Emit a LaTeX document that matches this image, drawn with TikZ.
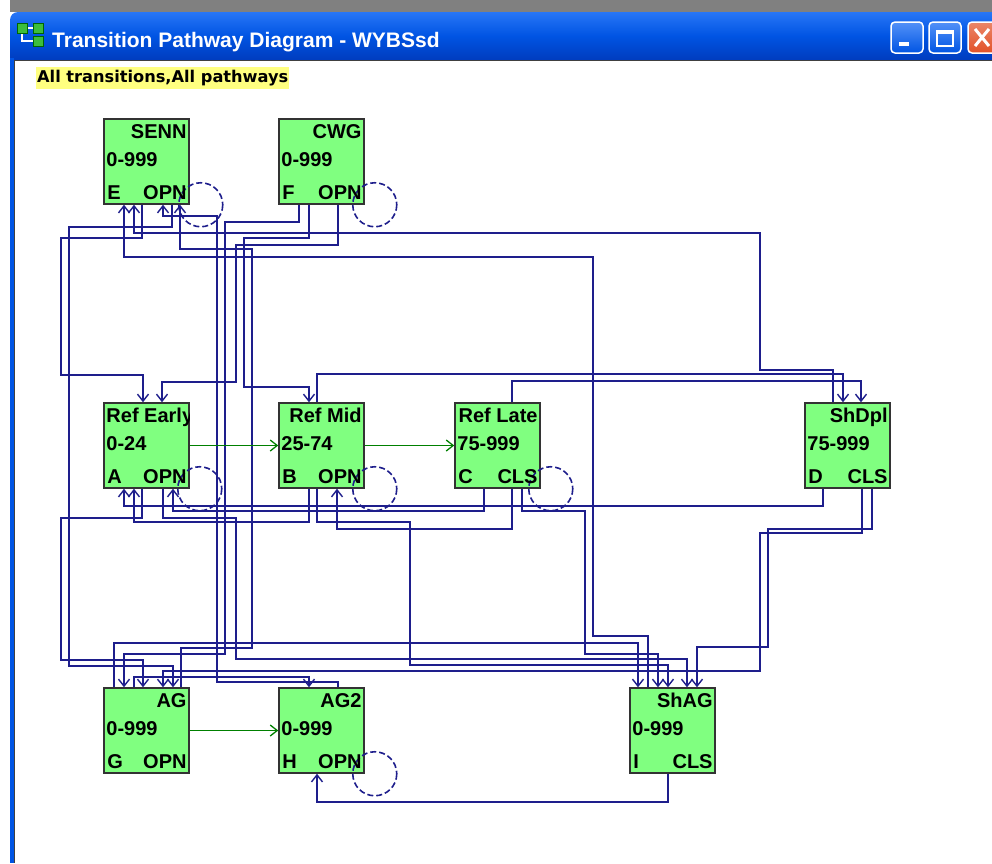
\documentclass[tikz,border=0pt]{standalone}
\usepackage{fontspec}
\setmainfont{Liberation Sans}
\newfontfamily\dejavu{DejaVu Sans}
\usepackage{xcolor}
\usetikzlibrary{arrows.meta, calc, positioning}

\definecolor{linkblue}{RGB}{30,30,140}
\definecolor{statefill}{RGB}{128,255,128}
\definecolor{ageflow}{RGB}{0,128,0}
\definecolor{hilite}{RGB}{255,255,128}
\definecolor{xpblue}{RGB}{0,84,227}
\definecolor{xplight}{RGB}{40,118,246}
\definecolor{xpdark}{RGB}{0,60,190}
\definecolor{xpred}{RGB}{226,82,40}
\definecolor{icongreen}{RGB}{60,190,60}

\begin{document}
\begin{tikzpicture}[x=1pt, y=-1pt,
		state/.style={draw=black!80, line width=1.5pt, fill=statefill, minimum width=85pt, minimum height=85pt, inner sep=0pt}, % state boxes
		boxtext/.style={font=\fontsize{20}{24}\selectfont\bfseries, inner sep=0pt},
		link/.style={draw=linkblue, line width=1.8pt, -{Straight Barb[length=7pt,width=11pt,line width=1.4pt]}}, % transitions
		agelink/.style={draw=ageflow, line width=1.5pt, -{Straight Barb[length=7pt,width=11pt,line width=1.3pt]}}, % age steps
		selfloop/.style={draw=linkblue, line width=1.6pt, dash pattern=on 6pt off 3pt},
		winbutton/.style={draw=white, line width=1.5pt, rounded corners=4pt}
		]
		\useasboundingbox (0,0) rectangle (992,863);
		\fill[white] (0,0) rectangle (992,863);
		% Window frame and title bar
		\fill[black!50] (10,0) rectangle (992,12);
		\shade[top color=xplight, bottom color=xpdark, middle color=xpblue] (10,60) [rounded corners=8pt] -- (10,12) -- (1000,12) [sharp corners] -- (1000,60) -- cycle;
		\fill[xpblue] (10,58) rectangle (14,863);
		\draw[black!75, line width=1.5pt] (14.5,60.5) -- (14.5,863) (14,60.5) -- (992,60.5);
		% Title icon
		\draw[white, line width=1.2pt] (27,28) -- (33,28) (22,33) |- (33,41);
		\draw[green!40!black, fill=icongreen, line width=1pt] (17,23) rectangle (27,33);
		\draw[green!40!black, fill=icongreen, line width=1pt] (33,23) rectangle (43,33);
		\draw[green!40!black, fill=icongreen, line width=1pt] (33,36) rectangle (43,46);
		\node[font=\fontsize{21}{25}\selectfont\bfseries, text=white, inner sep=0pt, anchor=base west] (title) at (52,47) {Transition Pathway Diagram - WYBSsd};
		% Window buttons
		\shade[winbutton, top color=xplight!80!white, bottom color=xpblue] (891,22) rectangle (923,53);
		\fill[white] (899,42) rectangle (909,46);
		\shade[winbutton, top color=xplight!80!white, bottom color=xpblue] (929,22) rectangle (961,53);
		\draw[white, line width=1.5pt] (937,31) rectangle (953,46);
		\fill[white] (937,30) rectangle (953,34);
		\shade[winbutton, top color=xpred!70!white, bottom color=xpred] (968,22) rectangle (1000,53);
		\draw[white, line width=3pt] (975,29) -- (989,46) (989,29) -- (975,46);
		% Caption
		\node[fill=hilite, font=\dejavu\fontsize{16.2}{19}\selectfont\bfseries, inner xsep=1pt, minimum height=22pt, anchor=west] (caption) at (36,78) {All transitions,All pathways};

		% States
		\node[state] (E) at (146.5,161.5) {};
		\node[state] (F) at (321.5,161.5) {};
		\node[state] (A) at (146.5,445.5) {};
		\node[state] (B) at (321.5,445.5) {};
		\node[state] (C) at (497.5,445.5) {};
		\node[state] (D) at (847.5,445.5) {};
		\node[state] (G) at (146.5,730.5) {};
		\node[state] (H) at (321.5,730.5) {};
		\node[state] (I) at (672.5,730.5) {};

		% Self transitions
		\draw[selfloop] ($(E.south east)+(11,0)$) circle[radius=22];
		\draw[selfloop] ($(F.south east)+(10,0)$) circle[radius=22];
		\draw[selfloop] ($(A.south east)+(10,0)$) circle[radius=22];
		\draw[selfloop] ($(B.south east)+(10,0)$) circle[radius=22];
		\draw[selfloop] ($(C.south east)+(10,0)$) circle[radius=22];
		\draw[selfloop] ($(H.south east)+(10,0)$) circle[radius=22];

		% Transitions (orthogonal routes)
		\draw[link] (E.south -| 142,0) |- (61,238) |- (143,375) -- (A.north -| 143,0);
		\draw[link] (E.south -| 172,0) |- (69,227) |- (173,666) -- (G.north -| 173,0);
		\draw[link] (F.south -| 299,0) |- (225,222) |- (124,654) -- (G.north -| 124,0);
		\draw[link] (F.south -| 309,0) |- (244,238) |- (309,387) -- (B.north -| 309,0);
		\draw[link] (F.south -| 338,0) |- (236,245) |- (162,382) -- (A.north -| 162,0);
		\draw[link] (D.north -| 833,0) |- (760,370) |- (134,233) -- (E.south -| 134,0);
		\draw[link] (I.north -| 648,0) |- (593,636) |- (124,257) -- (E.south -| 124,0);
		\draw[link] (G.north -| 181,0) |- (252,648) |- (180,249) -- (E.south -| 180,0);
		\draw[link] (H.north -| 338,0) |- (217,682) |- (163,216) -- (E.south -| 163,0);
		\draw[link] (G.north -| 134,0) |- (309,677) -- (H.north -| 309,0);
		\draw[link] (B.north -| 317,0) |- (843,374) -- (D.north -| 843,0);
		\draw[link] (C.north -| 512,0) |- (861,381) -- (D.north -| 861,0);
		\draw[link] (D.south -| 823,0) |- (124,506) -- (A.south -| 124,0);
		\draw[link] (C.south -| 484,0) |- (173,511) -- (A.south -| 173,0);
		\draw[link] (C.south -| 512,0) |- (337,529) -- (B.south -| 337,0);
		\draw[link] (B.south -| 309,0) |- (134,522) -- (A.south -| 134,0);
		\draw[link] (A.south -| 142,0) |- (61,518) |- (143,660) -- (G.north -| 143,0);
		\draw[link] (A.south -| 163,0) |- (236,518) |- (687,659) -- (I.north -| 687,0);
		\draw[link] (G.north -| 114,0) |- (638,643) -- (I.north -| 638,0);
		\draw[link] (C.south -| 522,0) |- (585,511) |- (658,654) -- (I.north -| 658,0);
		\draw[link] (B.south -| 317,0) |- (410,522) |- (668,665) -- (I.north -| 668,0);
		\draw[link] (D.south -| 872,0) |- (768,529) |- (697,647) -- (I.north -| 697,0);
		\draw[link] (D.south -| 862,0) |- (760,533) |- (163,671) -- (G.north -| 163,0);
		\draw[link] (I.south -| 668,0) |- (317,802) -- (H.south -| 317,0);

		% Age progression
		\draw[agelink] (A.east) -- (B.west);
		\draw[agelink] (B.east) -- (C.west);
		\draw[agelink] (G.east) -- (H.west);

		% State labels
		\node[boxtext, anchor=base east] (E-name) at ($(E.north east)+(-3,20)$) {SENN};
		\node[boxtext, anchor=base west] (E-range) at ($(E.north west)+(3,48)$) {0-999};
		\node[boxtext, anchor=base west] (E-id) at ($(E.south west)+(4,-5)$) {E};
		\node[boxtext, anchor=base east] (E-status) at ($(E.south east)+(-3,-5)$) {OPN};

		\node[boxtext, anchor=base east] (F-name) at ($(F.north east)+(-3,20)$) {CWG};
		\node[boxtext, anchor=base west] (F-range) at ($(F.north west)+(3,48)$) {0-999};
		\node[boxtext, anchor=base west] (F-id) at ($(F.south west)+(4,-5)$) {F};
		\node[boxtext, anchor=base east] (F-status) at ($(F.south east)+(-3,-5)$) {OPN};

		\begin{scope}
			\clip (A.south west) rectangle (A.north east);
			\node[boxtext, anchor=base west] (A-name) at ($(A.north west)+(3,20)$) {Ref Early};
		\end{scope}
		\node[boxtext, anchor=base west] (A-range) at ($(A.north west)+(3,48)$) {0-24};
		\node[boxtext, anchor=base west] (A-id) at ($(A.south west)+(4,-5)$) {A};
		\node[boxtext, anchor=base east] (A-status) at ($(A.south east)+(-3,-5)$) {OPN};

		\node[boxtext, anchor=base east] (B-name) at ($(B.north east)+(-3,20)$) {Ref Mid};
		\node[boxtext, anchor=base west] (B-range) at ($(B.north west)+(3,48)$) {25-74};
		\node[boxtext, anchor=base west] (B-id) at ($(B.south west)+(4,-5)$) {B};
		\node[boxtext, anchor=base east] (B-status) at ($(B.south east)+(-3,-5)$) {OPN};

		\node[boxtext, anchor=base east] (C-name) at ($(C.north east)+(-3,20)$) {Ref Late};
		\node[boxtext, anchor=base west] (C-range) at ($(C.north west)+(3,48)$) {75-999};
		\node[boxtext, anchor=base west] (C-id) at ($(C.south west)+(4,-5)$) {C};
		\node[boxtext, anchor=base east] (C-status) at ($(C.south east)+(-3,-5)$) {CLS};

		\node[boxtext, anchor=base east] (D-name) at ($(D.north east)+(-3,20)$) {ShDpl};
		\node[boxtext, anchor=base west] (D-range) at ($(D.north west)+(3,48)$) {75-999};
		\node[boxtext, anchor=base west] (D-id) at ($(D.south west)+(4,-5)$) {D};
		\node[boxtext, anchor=base east] (D-status) at ($(D.south east)+(-3,-5)$) {CLS};

		\node[boxtext, anchor=base east] (G-name) at ($(G.north east)+(-3,20)$) {AG};
		\node[boxtext, anchor=base west] (G-range) at ($(G.north west)+(3,48)$) {0-999};
		\node[boxtext, anchor=base west] (G-id) at ($(G.south west)+(4,-5)$) {G};
		\node[boxtext, anchor=base east] (G-status) at ($(G.south east)+(-3,-5)$) {OPN};

		\node[boxtext, anchor=base east] (H-name) at ($(H.north east)+(-3,20)$) {AG2};
		\node[boxtext, anchor=base west] (H-range) at ($(H.north west)+(3,48)$) {0-999};
		\node[boxtext, anchor=base west] (H-id) at ($(H.south west)+(4,-5)$) {H};
		\node[boxtext, anchor=base east] (H-status) at ($(H.south east)+(-3,-5)$) {OPN};

		\node[boxtext, anchor=base east] (I-name) at ($(I.north east)+(-3,20)$) {ShAG};
		\node[boxtext, anchor=base west] (I-range) at ($(I.north west)+(3,48)$) {0-999};
		\node[boxtext, anchor=base west] (I-id) at ($(I.south west)+(4,-5)$) {I};
		\node[boxtext, anchor=base east] (I-status) at ($(I.south east)+(-3,-5)$) {CLS};
	\end{tikzpicture}
\end{document}
